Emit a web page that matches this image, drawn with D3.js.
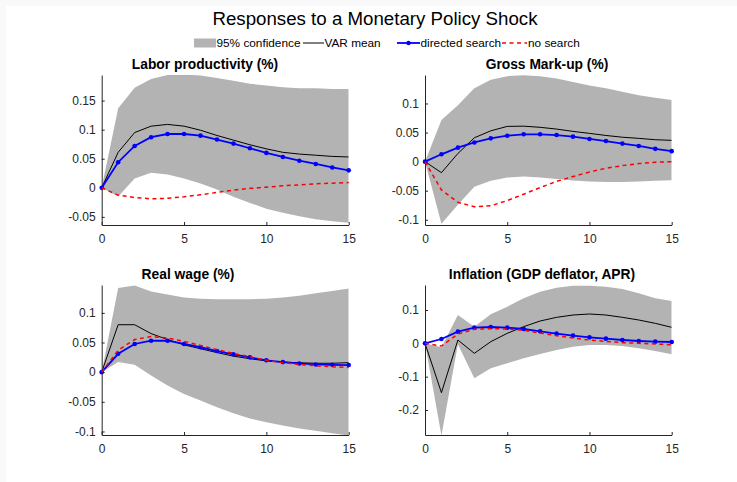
<!DOCTYPE html>
<html>
<head>
<meta charset="utf-8">
<script src="https://cdn.jsdelivr.net/npm/d3@7"></script>
<style>
html,body{margin:0;padding:0;background:#f9f9f9;}
svg{display:block;}
text{font-family:"Liberation Sans",Arial,Helvetica,sans-serif;}
</style>
</head>
<body>
<svg id="chart" width="737" height="482"></svg>
<script>
// ---------------- data ----------------
const horizon = d3.range(0, 16);
const xTicks = [0, 5, 10, 15];

const chartTitle = "Responses to a Monetary Policy Shock";
const legendLabels = ["95% confidence", "VAR mean", "directed search", "no search"];
const panelTitles = ["Labor productivity (%)", "Gross Mark-up (%)", "Real wage (%)", "Inflation (GDP deflator, APR)"];

// Labor productivity
const lpUpper = [0, 0.137, 0.172, 0.187, 0.194, 0.195, 0.193, 0.189, 0.184, 0.179, 0.176, 0.173, 0.171, 0.171, 0.170, 0.170];
const lpLower = [0, -0.015, 0.016, 0.026, 0.023, 0.016, 0.0075, -0.003, -0.0155, -0.026, -0.036, -0.043, -0.049, -0.054, -0.0575, -0.060];
const lpVar = [0, 0.061, 0.095, 0.106, 0.109, 0.106, 0.099, 0.090, 0.082, 0.074, 0.067, 0.061, 0.058, 0.056, 0.054, 0.053];
const lpDirected = [0, 0.044, 0.072, 0.087, 0.0925, 0.0925, 0.0897, 0.083, 0.076, 0.068, 0.060, 0.053, 0.0466, 0.041, 0.035, 0.030];
const lpNoSearch = [0, -0.0126, -0.0167, -0.019, -0.018, -0.0155, -0.012, -0.008, -0.004, -0.001, 0.001, 0.0035, 0.005, 0.007, 0.008, 0.009];

// Gross mark-up
const muUpper = [0, 0.0714, 0.097, 0.126, 0.141, 0.147, 0.1486, 0.147, 0.143, 0.137, 0.131, 0.126, 0.120, 0.114, 0.110, 0.106];
const muLower = [0, -0.107, -0.074, -0.043, -0.033, -0.0274, -0.0257, -0.0274, -0.030, -0.0326, -0.034, -0.035, -0.035, -0.034, -0.033, -0.032];
const muVar = [0, -0.019, 0.014, 0.041, 0.053, 0.0606, 0.061, 0.059, 0.056, 0.052, 0.0486, 0.045, 0.042, 0.040, 0.0377, 0.0366];
const muDirected = [0, 0.0126, 0.024, 0.033, 0.040, 0.0446, 0.047, 0.047, 0.0457, 0.043, 0.039, 0.0354, 0.031, 0.027, 0.022, 0.018];
const muNoSearch = [0, -0.0486, -0.070, -0.0777, -0.076, -0.067, -0.056, -0.0446, -0.034, -0.0257, -0.0177, -0.0114, -0.0069, -0.0034, -0.001, 0];

// Real wage
const rwUpper = [0, 0.142, 0.146, 0.136, 0.131, 0.126, 0.124, 0.123, 0.123, 0.123, 0.124, 0.126, 0.129, 0.133, 0.137, 0.141];
const rwLower = [0, 0.017, 0.0124, -0.0056, -0.0226, -0.0367, -0.048, -0.059, -0.0695, -0.078, -0.0847, -0.090, -0.095, -0.099, -0.103, -0.107];
const rwVar = [0, 0.080, 0.080, 0.065, 0.055, 0.046, 0.0395, 0.033, 0.027, 0.0226, 0.019, 0.017, 0.0158, 0.015, 0.015, 0.016];
const rwDirected = [0, 0.031, 0.0475, 0.053, 0.053, 0.0475, 0.042, 0.0356, 0.030, 0.025, 0.020, 0.017, 0.0147, 0.013, 0.0124, 0.012];
const rwNoSearch = [0, 0.037, 0.055, 0.060, 0.0576, 0.052, 0.045, 0.038, 0.0316, 0.026, 0.020, 0.016, 0.013, 0.0107, 0.009, 0.008];

// Inflation
const inUpper = [0, -0.012, 0.085, 0.050, 0.087, 0.110, 0.135, 0.155, 0.167, 0.173, 0.173, 0.170, 0.163, 0.150, 0.135, 0.127];
const inLower = [0, -0.277, -0.003, -0.105, -0.075, -0.060, -0.045, -0.032, -0.020, -0.010, -0.005, -0.005, -0.008, -0.015, -0.023, -0.033];
const inVar = [0, -0.148, 0.010, -0.030, 0.005, 0.030, 0.050, 0.067, 0.078, 0.085, 0.088, 0.085, 0.078, 0.070, 0.060, 0.048];
const inDirected = [0, 0.013, 0.035, 0.047, 0.049, 0.047, 0.043, 0.036, 0.029, 0.023, 0.018, 0.014, 0.010, 0.007, 0.005, 0.004];
const inNoSearch = [0, -0.008, 0.028, 0.042, 0.044, 0.043, 0.039, 0.031, 0.023, 0.016, 0.010, 0.006, 0.002, 0, -0.002, -0.004];

const yTicks = [
  [-0.05, 0, 0.05, 0.1, 0.15],
  [-0.1, -0.05, 0, 0.05, 0.1],
  [-0.1, -0.05, 0, 0.05, 0.1],
  [-0.2, -0.1, 0, 0.1]
];
const yLimits = [
  [-0.064, 0.194],
  [-0.109, 0.149],
  [-0.106, 0.147],
  [-0.275, 0.175]
];

const panelSeries = [
  {upper: lpUpper, lower: lpLower, varMean: lpVar, directed: lpDirected, noSearch: lpNoSearch},
  {upper: muUpper, lower: muLower, varMean: muVar, directed: muDirected, noSearch: muNoSearch},
  {upper: rwUpper, lower: rwLower, varMean: rwVar, directed: rwDirected, noSearch: rwNoSearch},
  {upper: inUpper, lower: inLower, varMean: inVar, directed: inDirected, noSearch: inNoSearch}
];

// ---------------- layout ----------------
const layout = [
  {x0: 101.7, x1: 348.7, y0: 75, y1: 225, titleX: 205},
  {x0: 425, x1: 671.7, y0: 75, y1: 225, titleX: 547},
  {x0: 101.7, x1: 348.7, y0: 285, y1: 435, titleX: 188},
  {x0: 425, x1: 671.7, y0: 285, y1: 435, titleX: 542}
];

const colBand = "#b3b3b3";
const colAxis = "#262626";
const colBlue = "#0000ff";
const colRed = "#ff0000";

const svg = d3.select("#chart");
svg.append("rect").attr("x", 6).attr("y", 6).attr("width", 731).attr("height", 476).attr("fill", "#ffffff");

// main title
svg.append("text").attr("x", 375).attr("y", 25).attr("text-anchor", "middle")
  .attr("font-size", 18.7).attr("fill", "#000").text(chartTitle);

// legend
const lg = svg.append("g").attr("font-size", 11.8).attr("fill", "#000");
const legendY = 43;
lg.append("rect").attr("x", 194).attr("y", 38.5).attr("width", 22).attr("height", 9).attr("fill", colBand);
lg.append("text").attr("x", 216.5).attr("y", legendY + 4).text(legendLabels[0]);
lg.append("line").attr("x1", 303).attr("x2", 324).attr("y1", legendY).attr("y2", legendY).attr("stroke", "#000").attr("stroke-width", 1);
lg.append("text").attr("x", 324.5).attr("y", legendY + 4).text(legendLabels[1]);
lg.append("line").attr("x1", 397).attr("x2", 420).attr("y1", legendY).attr("y2", legendY).attr("stroke", colBlue).attr("stroke-width", 1.8);
lg.append("circle").attr("cx", 408.5).attr("cy", legendY).attr("r", 2.2).attr("fill", colBlue);
lg.append("text").attr("x", 420.5).attr("y", legendY + 4).text(legendLabels[2]);
lg.append("line").attr("x1", 502).attr("x2", 527).attr("y1", legendY).attr("y2", legendY).attr("stroke", colRed).attr("stroke-width", 1.5).attr("stroke-dasharray", "4,3.5");
lg.append("text").attr("x", 528).attr("y", legendY + 4).text(legendLabels[3]);

// panels
panelSeries.forEach((s, i) => {
  const L = layout[i];
  const x = d3.scaleLinear().domain([0, 15]).range([L.x0, L.x1]);
  const y = d3.scaleLinear().domain(yLimits[i]).range([L.y1, L.y0]);
  const g = svg.append("g");
  const clipId = "clip" + i;
  g.append("clipPath").attr("id", clipId).append("rect")
    .attr("x", L.x0).attr("y", L.y0).attr("width", L.x1 - L.x0).attr("height", L.y1 - L.y0);
  const plot = g.append("g").attr("clip-path", `url(#${clipId})`);

  const area = d3.area().x(d => x(d)).y0(d => y(s.lower[d])).y1(d => y(s.upper[d]));
  plot.append("path").datum(horizon).attr("d", area).attr("fill", colBand).attr("stroke", "none");

  const line = arr => d3.line().x(d => x(d)).y(d => y(arr[d]))(horizon);
  plot.append("path").attr("d", line(s.varMean)).attr("fill", "none").attr("stroke", "#000").attr("stroke-width", 1);

  // axes
  const xAxis = d3.axisBottom(x).tickValues(xTicks).tickSizeInner(-3).tickSizeOuter(0).tickPadding(7).tickFormat(d => String(d));
  const yAxis = d3.axisLeft(y).tickValues(yTicks[i]).tickSizeInner(-3).tickSizeOuter(0).tickPadding(6).tickFormat(d => String(d));
  const gx = g.append("g").attr("transform", `translate(0,${L.y1})`).call(xAxis);
  const gy = g.append("g").attr("transform", `translate(${L.x0},0)`).call(yAxis);
  [gx, gy].forEach(a => {
    a.attr("font-size", 12).attr("font-family", '"Liberation Sans",Arial,sans-serif');
    a.selectAll("path.domain").attr("stroke", colAxis).attr("stroke-width", 1);
    a.selectAll(".tick line").attr("stroke", colAxis);
    a.selectAll(".tick text").attr("fill", colAxis);
  });
  gx.selectAll(".tick text").attr("dy", "0.9em");

  const top = g.append("g");
  top.append("path").attr("d", line(s.directed)).attr("fill", "none").attr("stroke", colBlue).attr("stroke-width", 1.8);
  top.selectAll("circle.dm").data(horizon).enter().append("circle")
    .attr("cx", d => x(d)).attr("cy", d => y(s.directed[d])).attr("r", 2.3).attr("fill", colBlue);
  top.append("path").attr("d", line(s.noSearch)).attr("fill", "none").attr("stroke", colRed)
    .attr("stroke-width", 1.5).attr("stroke-dasharray", "4,3.5");

  g.append("text").attr("x", L.titleX).attr("y", L.y0 - 6).attr("text-anchor", "middle")
    .attr("font-size", 13.8).attr("font-weight", "bold").attr("fill", "#000").text(panelTitles[i]);
});
</script>
</body>
</html>
